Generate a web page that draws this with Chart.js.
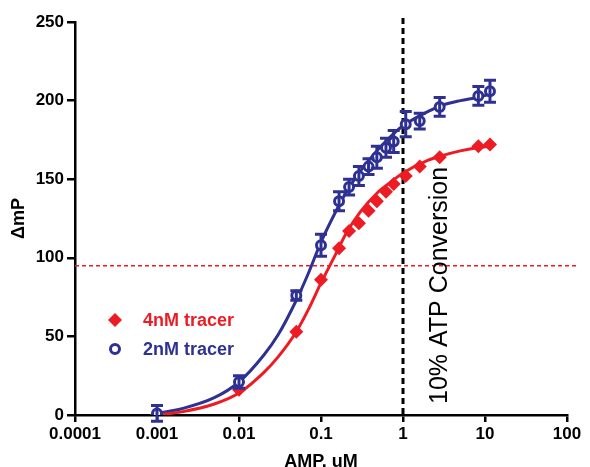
<!DOCTYPE html>
<html>
<head>
<meta charset="utf-8">
<script src="https://cdn.jsdelivr.net/npm/chart.js@4"></script>
<style>
  html, body { margin:0; padding:0; background:#fff; }
  #wrap { width:590px; height:467px; }
</style>
</head>
<body>
<div id="wrap"><canvas id="amp"></canvas></div>
<script>
const xTicks = [0.0001, 0.001, 0.01, 0.1, 1, 10, 100];
const xTickLabels = ['0.0001', '0.001', '0.01', '0.1', '1', '10', '100'];
const yTicks = [0, 50, 100, 150, 200, 250];

// AMP concentrations (uM)
const conc = [0.001, 0.01, 0.05, 0.1, 0.166, 0.22, 0.29, 0.38, 0.48, 0.62, 0.77, 1.08, 1.6, 2.8, 8.3, 11.5];
const tracer4nM = [0, 16, 53, 86, 106, 117, 122, 130, 136, 142, 147, 152, 158, 164, 171, 172];
const tracer2nM = [1, 21, 76, 108, 136, 145, 152, 158, 164, 170, 174, 185, 187, 196, 203, 206];
const tracer2nMErr = [5, 4, 3, 7, 6, 5, 6, 5, 7, 6, 7, 8, 5, 6, 6, 7];

// fitted curves
const fitX = [0.001, 0.002, 0.005, 0.01, 0.02, 0.03, 0.05, 0.07, 0.1, 0.15, 0.2, 0.3, 0.5, 0.7, 1, 2, 3, 5, 8, 11.5];
const fit4nM = [0, 2, 7, 14, 27, 37, 53, 67, 84, 102, 115, 129, 142, 148, 154, 162, 165, 168, 170, 171];
const fit2nM = [1, 4, 11, 21, 38, 51, 73, 90, 110, 129, 141, 155, 169, 177, 184, 193, 197, 200, 202, 204];

const threshold = 95;
const conversionX = 1;

const RED = '#ed1c24';
const BLUE = '#2e3192';
const FONT = '"Liberation Sans", Arial, sans-serif';

const pts = (xs, ys) => xs.map((x, i) => ({ x: x, y: ys[i] }));

const errorBars = {
  id: 'errorBars',
  afterDatasetsDraw(chart) {
    const ctx = chart.ctx, xs = chart.scales.x, ys = chart.scales.y;
    ctx.save();
    ctx.strokeStyle = BLUE;
    ctx.lineWidth = 3;
    conc.forEach((c, i) => {
      const px = xs.getPixelForValue(c);
      const top = ys.getPixelForValue(tracer2nM[i] + tracer2nMErr[i]);
      const bot = ys.getPixelForValue(tracer2nM[i] - tracer2nMErr[i]);
      ctx.beginPath();
      ctx.moveTo(px, top); ctx.lineTo(px, bot);
      ctx.moveTo(px - 6, top); ctx.lineTo(px + 6, top);
      ctx.moveTo(px - 6, bot); ctx.lineTo(px + 6, bot);
      ctx.stroke();
    });
    ctx.restore();
  }
};

const refLines = {
  id: 'refLines',
  beforeDatasetsDraw(chart) {
    const ctx = chart.ctx, xs = chart.scales.x, ys = chart.scales.y, a = chart.chartArea;
    ctx.save();
    // threshold
    const ty = ys.getPixelForValue(threshold);
    ctx.strokeStyle = RED;
    ctx.lineWidth = 1.5;
    ctx.setLineDash([4, 3]);
    ctx.beginPath();
    ctx.moveTo(a.left, ty); ctx.lineTo(a.right + 11, ty);
    ctx.stroke();
    // 10% conversion
    const vx = xs.getPixelForValue(conversionX);
    ctx.strokeStyle = '#000';
    ctx.lineWidth = 3;
    ctx.setLineDash([6, 4]);
    ctx.beginPath();
    ctx.moveTo(vx, a.top - 4); ctx.lineTo(vx, a.bottom);
    ctx.stroke();
    ctx.setLineDash([]);
    ctx.translate(vx + 44, a.bottom - 11);
    ctx.rotate(-Math.PI / 2);
    ctx.fillStyle = '#000';
    ctx.font = '25px ' + FONT;
    ctx.textAlign = 'left';
    ctx.textBaseline = 'alphabetic';
    ctx.fillText('10% ATP Conversion', 0, 0);
    ctx.restore();
  }
};

const legendBox = {
  id: 'legendBox',
  afterDraw(chart) {
    const ctx = chart.ctx;
    ctx.save();
    ctx.font = 'bold 18px ' + FONT;
    ctx.textBaseline = 'middle';
    // diamond
    ctx.fillStyle = RED;
    ctx.beginPath();
    ctx.moveTo(115, 313); ctx.lineTo(122, 320); ctx.lineTo(115, 327); ctx.lineTo(108, 320);
    ctx.closePath(); ctx.fill();
    ctx.fillText('4nM tracer', 143, 321);
    // circle
    ctx.strokeStyle = BLUE;
    ctx.lineWidth = 3;
    ctx.beginPath();
    ctx.arc(115, 349, 4.5, 0, Math.PI * 2);
    ctx.stroke();
    ctx.fillStyle = BLUE;
    ctx.fillText('2nM tracer', 143, 350);
    ctx.restore();
  }
};

new Chart(document.getElementById('amp'), {
  type: 'scatter',
  data: {
    datasets: [
      { label: '2nM fit', data: pts(fitX, fit2nM), showLine: true, borderColor: BLUE, borderWidth: 3,
        pointRadius: 0, cubicInterpolationMode: 'monotone', order: 4 },
      { label: '4nM fit', data: pts(fitX, fit4nM), showLine: true, borderColor: RED, borderWidth: 3,
        pointRadius: 0, cubicInterpolationMode: 'monotone', order: 3 },
      { label: '4nM tracer', data: pts(conc, tracer4nM), pointStyle: 'rectRot', pointRadius: 7,
        backgroundColor: RED, borderColor: RED, borderWidth: 0, order: 2 },
      { label: '2nM tracer', data: pts(conc, tracer2nM), pointStyle: 'circle', pointRadius: 4.5,
        backgroundColor: '#fff', borderColor: BLUE, borderWidth: 3, order: 1 }
    ]
  },
  options: {
    responsive: true,
    maintainAspectRatio: false,
    animation: false,
    layout: { padding: { left: 8, right: 23, top: 22, bottom: 0 } },
    plugins: { legend: { display: false }, tooltip: { enabled: false } },
    scales: {
      x: {
        type: 'logarithmic', min: 0.0001, max: 100,
        afterBuildTicks: s => { s.ticks = xTicks.map(v => ({ value: v })); },
        afterFit: s => { s.height = 52; },
        ticks: { color: '#000', font: { family: FONT, size: 17, weight: 'bold' }, padding: 2,
                 maxRotation: 0, autoSkip: false,
                 callback: v => xTickLabels[xTicks.indexOf(v)] },
        grid: { display: true, drawOnChartArea: false, drawTicks: true, tickLength: 7, color: '#000', lineWidth: 2.5 },
        border: { display: true, color: '#000', width: 2.5 },
        title: { display: true, text: 'AMP, uM', color: '#000', font: { family: FONT, size: 18, weight: 'bold' },
                 padding: { top: 4, bottom: -6 } }
      },
      y: {
        min: 0, max: 250,
        afterBuildTicks: s => { s.ticks = yTicks.map(v => ({ value: v })); },
        afterFit: s => { s.width = 67; },
        ticks: { color: '#000', font: { family: FONT, size: 17, weight: 'bold' }, padding: 3 },
        grid: { display: true, drawOnChartArea: false, drawTicks: true, tickLength: 8, color: '#000', lineWidth: 2.5 },
        border: { display: true, color: '#000', width: 2.5 },
        title: { display: true, text: 'ΔmP', color: '#000', font: { family: FONT, size: 18, weight: 'bold' },
                 padding: { top: 0, bottom: 0 } }
      }
    }
  },
  plugins: [refLines, errorBars, legendBox]
});
</script>
</body>
</html>
